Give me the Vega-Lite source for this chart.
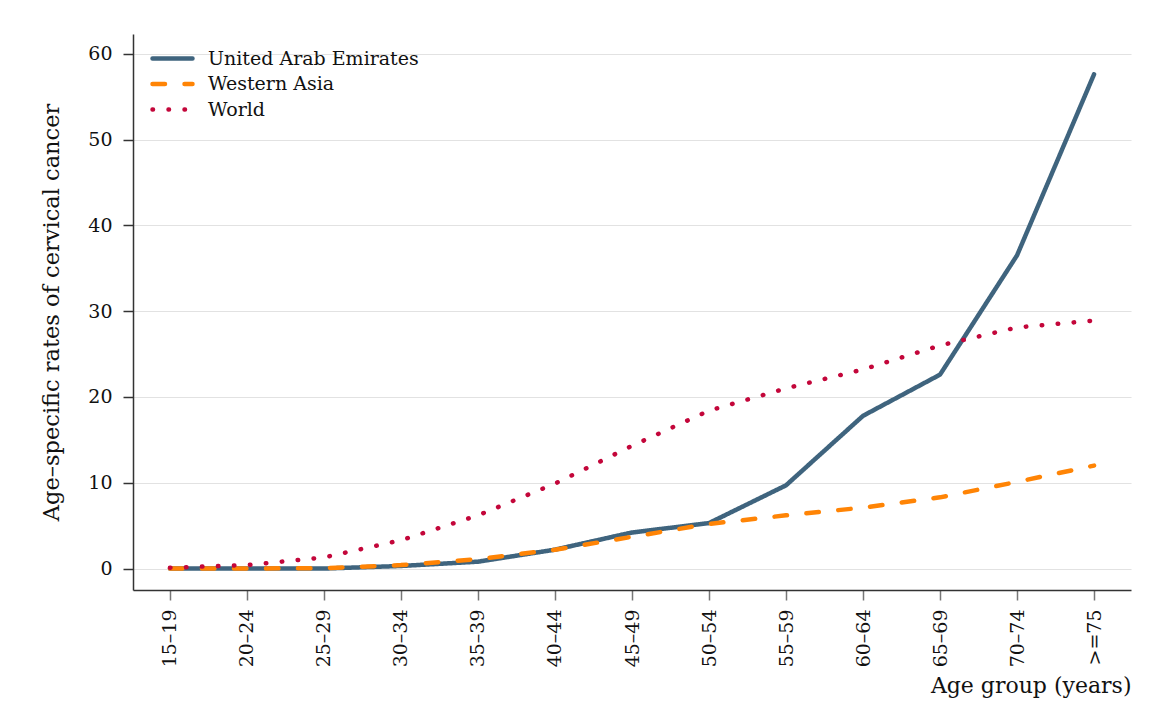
{
  "$schema": "https://vega.github.io/schema/vega-lite/v6.json",
  "width": 998,
  "height": 556,
  "autosize": "none",
  "padding": {"left": 133, "top": 34, "right": 38, "bottom": 116},
  "background": "white",
  "config": {
    "font": "DejaVu Serif",
    "view": {"stroke": null},
    "axis": {"labelFont": "DejaVu Serif", "titleFont": "DejaVu Serif", "labelColor": "#111", "titleColor": "#111", "titleFontWeight": "normal"}
  },
  "data": {
    "values": [
      {"age": "15–19", "region": "United Arab Emirates", "rate": 0},
      {"age": "20–24", "region": "United Arab Emirates", "rate": 0},
      {"age": "25–29", "region": "United Arab Emirates", "rate": 0},
      {"age": "30–34", "region": "United Arab Emirates", "rate": 0.3},
      {"age": "35–39", "region": "United Arab Emirates", "rate": 0.8},
      {"age": "40–44", "region": "United Arab Emirates", "rate": 2.2},
      {"age": "45–49", "region": "United Arab Emirates", "rate": 4.2},
      {"age": "50–54", "region": "United Arab Emirates", "rate": 5.3},
      {"age": "55–59", "region": "United Arab Emirates", "rate": 9.7},
      {"age": "60–64", "region": "United Arab Emirates", "rate": 17.8},
      {"age": "65–69", "region": "United Arab Emirates", "rate": 22.6},
      {"age": "70–74", "region": "United Arab Emirates", "rate": 36.5},
      {"age": ">=75", "region": "United Arab Emirates", "rate": 57.6},
      {"age": "15–19", "region": "Western Asia", "rate": 0},
      {"age": "20–24", "region": "Western Asia", "rate": 0},
      {"age": "25–29", "region": "Western Asia", "rate": 0.05},
      {"age": "30–34", "region": "Western Asia", "rate": 0.4},
      {"age": "35–39", "region": "Western Asia", "rate": 1.1},
      {"age": "40–44", "region": "Western Asia", "rate": 2.2},
      {"age": "45–49", "region": "Western Asia", "rate": 3.7},
      {"age": "50–54", "region": "Western Asia", "rate": 5.2},
      {"age": "55–59", "region": "Western Asia", "rate": 6.2},
      {"age": "60–64", "region": "Western Asia", "rate": 7.1},
      {"age": "65–69", "region": "Western Asia", "rate": 8.3},
      {"age": "70–74", "region": "Western Asia", "rate": 10.1},
      {"age": ">=75", "region": "Western Asia", "rate": 12.0},
      {"age": "15–19", "region": "World", "rate": 0.1},
      {"age": "20–24", "region": "World", "rate": 0.4},
      {"age": "25–29", "region": "World", "rate": 1.3},
      {"age": "30–34", "region": "World", "rate": 3.3},
      {"age": "35–39", "region": "World", "rate": 6.2},
      {"age": "40–44", "region": "World", "rate": 9.9},
      {"age": "45–49", "region": "World", "rate": 14.3},
      {"age": "50–54", "region": "World", "rate": 18.4},
      {"age": "55–59", "region": "World", "rate": 21.0},
      {"age": "60–64", "region": "World", "rate": 23.2},
      {"age": "65–69", "region": "World", "rate": 26.0},
      {"age": "70–74", "region": "World", "rate": 28.1},
      {"age": ">=75", "region": "World", "rate": 28.9}
    ]
  },
  "mark": {"type": "line", "strokeWidth": 4.5, "strokeCap": "round", "strokeJoin": "round"},
  "encoding": {
    "x": {
      "field": "age", "type": "ordinal",
      "sort": ["15–19", "20–24", "25–29", "30–34", "35–39", "40–44", "45–49", "50–54", "55–59", "60–64", "65–69", "70–74", ">=75"],
      "scale": {"type": "point", "padding": 0.48},
      "axis": {
        "title": "Age group (years)", "titleFontSize": 22, "titleAnchor": "end", "titlePadding": 9,
        "labelAngle": -90, "labelFontSize": 19, "labelPadding": 9,
        "tickSize": 10, "tickColor": "#777", "tickWidth": 1.5,
        "domainColor": "#333", "domainWidth": 1.5, "grid": false
      }
    },
    "y": {
      "field": "rate", "type": "quantitative",
      "scale": {"domain": [-2.5, 62.3], "nice": false, "zero": false},
      "axis": {
        "title": "Age–specific rates of cervical cancer", "titleFontSize": 22.5, "titlePadding": 24,
        "values": [0, 10, 20, 30, 40, 50, 60], "labelFontSize": 19, "labelPadding": 11,
        "tickSize": 10, "tickColor": "#333", "tickWidth": 1.5,
        "domainColor": "#333", "domainWidth": 1.5,
        "grid": true, "gridColor": "#e2e2e2", "gridWidth": 1.2
      }
    },
    "color": {
      "field": "region", "type": "nominal",
      "scale": {"domain": ["United Arab Emirates", "Western Asia", "World"], "range": ["#3f647e", "#ff8405", "#c3063a"]},
      "legend": {
        "title": null, "orient": "none", "legendX": 27, "legendY": 12,
        "symbolType": "M-2,0H2", "symbolSize": 400, "symbolStrokeWidth": 4.5,
        "labelFont": "DejaVu Serif", "labelFontSize": 19, "labelColor": "#111", "labelOffset": 23, "labelLimit": 500,
        "rowPadding": 2.5,
        "encode": {"symbols": {"update": {"strokeCap": {"value": "round"}}}}
      }
    },
    "strokeDash": {
      "field": "region", "type": "nominal",
      "scale": {"domain": ["United Arab Emirates", "Western Asia", "World"], "range": [[1, 0], [12.5, 19.5], [0.5, 15.5]]},
      "legend": {
        "title": null, "orient": "none", "legendX": 27, "legendY": 12,
        "symbolType": "M-2,0H2", "symbolSize": 400, "symbolStrokeWidth": 4.5,
        "labelFont": "DejaVu Serif", "labelFontSize": 19, "labelColor": "#111", "labelOffset": 23, "labelLimit": 500,
        "rowPadding": 2.5,
        "encode": {"symbols": {"update": {"strokeCap": {"value": "round"}}}}
      }
    }
  }
}
